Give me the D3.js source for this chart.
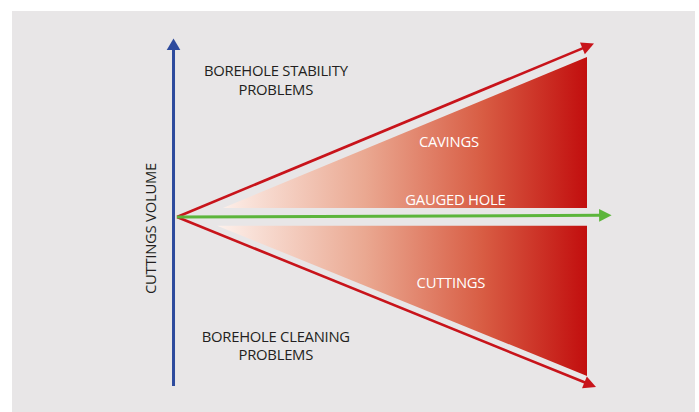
<!DOCTYPE html>
<html>
<head>
<meta charset="utf-8">
<script src="https://cdn.jsdelivr.net/npm/d3@7"></script>
<style>
  html, body { margin: 0; padding: 0; background: #fff; }
  svg { display: block; }
  text { font-family: "Open Sans", "Noto Sans", sans-serif; font-size: 14.8px; letter-spacing: -0.25px; }
</style>
</head>
<body>
<svg></svg>
<script>
// diagram values in "depth" (x) and "volume" (y) units; origin at the fan tip
var fanEnd = 100;
var arrows = [
    { name: 'stability', x1: 101.7, y1: 10.2 },
    { name: 'cleaning', x1: 102.2, y1: -10 },
    { name: 'gauged', x1: 106, y1: 0.1 }
];
var axisRange = [-9.94, 10.5];
var cavings = [[11.2, 0.53], [fanEnd, 9.41], [fanEnd, 0.53]];
var cuttings = [[9.8, -0.51], [fanEnd, -9.35], [fanEnd, -0.51]];
var axisLabel = 'CUTTINGS VOLUME';
var topLabel = ['BOREHOLE STABILITY', 'PROBLEMS'];
var bottomLabel = ['BOREHOLE CLEANING', 'PROBLEMS'];
var bandLabels = ['CAVINGS', 'GAUGED HOLE', 'CUTTINGS'];

var W = 699, H = 412;
var root = d3.select('svg').attr('width', W).attr('height', H);

var x = d3.scaleLinear().domain([0, fanEnd]).range([177, 587]);
var y = d3.scaleLinear().domain([-10, 10]).range([387, 47]);

root.append('rect')
    .attr('x', 12).attr('y', 11)
    .attr('width', 683).attr('height', H - 11)
    .attr('fill', '#e8e6e7');

var defs = root.append('defs');
var grad = defs.append('linearGradient')
    .attr('id', 'fan')
    .attr('gradientUnits', 'userSpaceOnUse')
    .attr('x1', x(9.8)).attr('x2', x(fanEnd))
    .attr('y1', 0).attr('y2', 0);
[[0, '#fdf1ec'], [0.4, '#eaa891'], [0.72, '#d85c43'], [1, '#c20e0e']].forEach(function (s) {
    grad.append('stop').attr('offset', s[0]).attr('stop-color', s[1]);
});

var line = d3.line()
    .x(function (d) { return x(d[0]); })
    .y(function (d) { return y(d[1]); });

root.selectAll('path.band')
    .data([cavings, cuttings])
    .enter()
    .append('path')
    .attr('class', 'band')
    .attr('d', function (d) { return line(d) + 'Z'; })
    .attr('fill', 'url(#fan)');

function arrow(x0, y0, x1, y1, color, width, len, half) {
    var dx = x1 - x0, dy = y1 - y0;
    var L = Math.sqrt(dx * dx + dy * dy);
    var ux = dx / L, uy = dy / L;
    var bx = x1 - ux * len, by = y1 - uy * len;
    root.append('line')
        .attr('x1', x0).attr('y1', y0)
        .attr('x2', bx + ux * 2).attr('y2', by + uy * 2)
        .attr('stroke', color)
        .attr('stroke-width', width);
    root.append('path')
        .attr('d', 'M' + x1 + ',' + y1 +
            'L' + (bx - uy * half) + ',' + (by + ux * half) +
            'L' + (bx + uy * half) + ',' + (by - ux * half) + 'Z')
        .attr('fill', color);
}

var colors = { stability: '#c8141b', cleaning: '#c8141b', gauged: '#5cb53b' };
arrows.forEach(function (a) {
    arrow(x(0), y(0), x(a.x1), y(a.y1), colors[a.name],
        a.name === 'gauged' ? 3 : 2.6, 12.5, 6.3);
});

// vertical axis
arrow(x(-0.85), y(axisRange[0]), x(-0.85), y(axisRange[1]), '#2d4a9d', 3, 11.5, 6.8);

root.append('text')
    .attr('transform', 'translate(' + x(-5.1) + ',' + y(-0.68) + ') rotate(-90)')
    .attr('text-anchor', 'middle')
    .attr('fill', '#231f20')
    .text(axisLabel);

function block(lines, cx, cy, color) {
    var t = root.append('text')
        .attr('text-anchor', 'middle')
        .attr('fill', color);
    lines.forEach(function (s, i) {
        t.append('tspan')
            .attr('x', x(cx))
            .attr('y', y(cy) + i * 18.5)
            .text(s);
    });
}

block(topLabel, 24.1, 8.29, '#231f20');
block(bottomLabel, 24.1, -7.35, '#231f20');
block([bandLabels[0]], 66.3, 4.12, '#fff');
block([bandLabels[1]], 67.9, 0.71, '#fff');
block([bandLabels[2]], 66.8, -4.16, '#fff');
</script>
</body>
</html>
